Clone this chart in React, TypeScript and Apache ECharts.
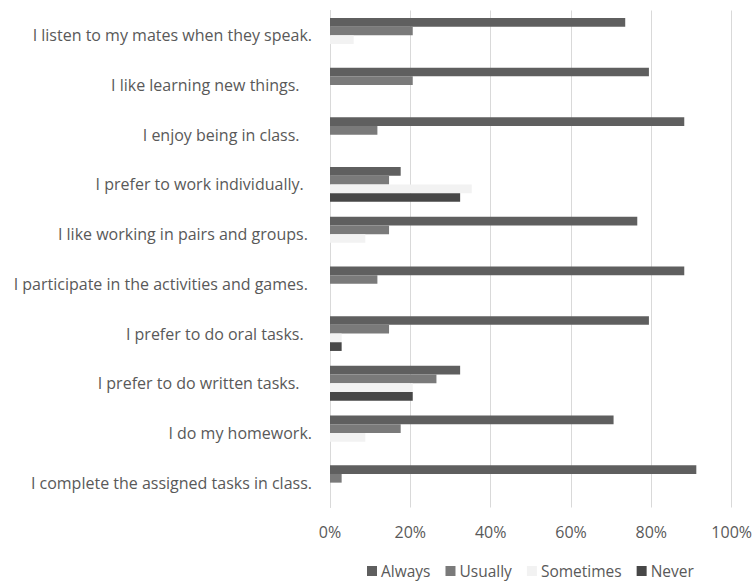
import React, { useEffect, useRef } from "react";
import * as echarts from "echarts";

const categories = [
  "I listen to my mates when they speak.",
  "I like learning new things.   ",
  "I enjoy being in class.   ",
  "I prefer to work individually.  ",
  "I like working in pairs and groups. ",
  "I participate in the activities and games. ",
  "I prefer to do oral tasks.  ",
  "I prefer to do written tasks.   ",
  "I do my homework.",
  "I complete the assigned tasks in class.",
];

const always = [73.5, 79.4, 88.2, 17.6, 76.5, 88.2, 79.4, 32.4, 70.6, 91.2];
const usually = [20.6, 20.6, 11.8, 14.7, 14.7, 11.8, 14.7, 26.5, 17.6, 2.9];
const sometimes = [5.9, 0, 0, 35.3, 8.8, 0, 2.9, 20.6, 8.8, 0];
const never = [0, 0, 0, 32.4, 0, 0, 2.9, 20.6, 0, 0];

const xTicks = [0, 20, 40, 60, 80, 100];

const FONT = "Open Sans";

export default function App() {
  const ref = useRef<HTMLDivElement>(null);
  useEffect(() => {
    if (!ref.current) return;
    const chart = echarts.init(ref.current, undefined, { renderer: "svg" });
    const mk = (name: string, data: number[], color: string) => ({
      name,
      type: "bar",
      data,
      barGap: "0%",
      barCategoryGap: "30%",
      itemStyle: { color },
      emphasis: { disabled: true },
    });
    chart.setOption({
      animation: false,
      textStyle: { fontFamily: FONT },
      grid: { left: 330, right: 22, top: 10.5, bottom: 75.5, containLabel: false },
      xAxis: {
        type: "value",
        min: xTicks[0],
        max: xTicks[xTicks.length - 1],
        interval: 20,
        axisLine: { show: false },
        axisTick: { show: false },
        splitLine: { show: true, lineStyle: { color: "#d9d9d9", width: 1 } },
        axisLabel: {
          formatter: (v: number) => `${v}%`,
          color: "#595959",
          fontSize: 16,
          fontFamily: FONT,
          margin: 16,
        },
      },
      yAxis: {
        type: "category",
        data: categories,
        inverse: true,
        axisLine: { show: true, lineStyle: { color: "#d9d9d9" } },
        axisTick: { show: false },
        axisLabel: {
          formatter: (v: string) => v.replace(/ +$/, (m) => "\u00a0".repeat(m.length)),
          color: "#595959",
          fontSize: 16,
          fontFamily: FONT,
          margin: 18,
        },
      },
      legend: {
        left: 362,
        top: 558,
        padding: 5,
        itemWidth: 10,
        itemHeight: 10,
        itemGap: 15,
        icon: "rect",
        textStyle: { color: "#595959", fontSize: 15.5, fontFamily: FONT, padding: [0, 0, 0, -1] },
        data: ["Always", "Usually", "Sometimes", "Never"],
      },
      series: [
        mk("Always", always, "#5f5f5f"),
        mk("Usually", usually, "#7a7a7a"),
        mk("Sometimes", sometimes, "#f2f2f2"),
        mk("Never", never, "#474747"),
      ],
    });
    return () => chart.dispose();
  }, []);
  return <div ref={ref} style={{ width: 755, height: 583, position: "absolute", left: 0, top: 0 }} />;
}
